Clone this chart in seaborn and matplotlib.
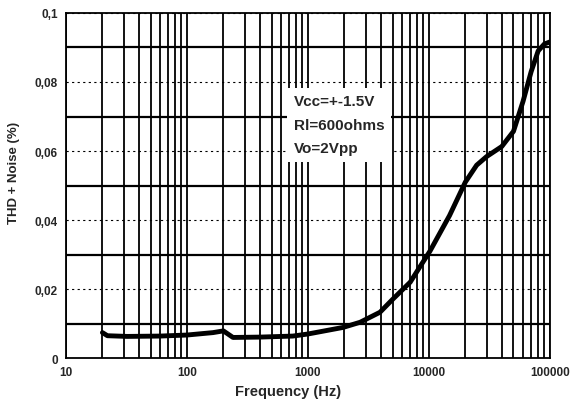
import numpy as np
import pandas as pd
import matplotlib
matplotlib.use("Agg")
import matplotlib.pyplot as plt
import matplotlib.ticker as mticker
import seaborn as sns

# data
freq = [20, 22, 32, 60, 100, 164, 200, 240, 400, 750, 1000, 1950, 2700, 3940,
        5000, 7000, 8440, 10200, 14800, 20000, 24800, 30000, 40000, 50000,
        60000, 70000, 80000, 90000, 100000]
thd = [0.0074, 0.0065, 0.0063, 0.0064, 0.0067, 0.0074, 0.0079, 0.0060, 0.0061,
       0.0064, 0.0070, 0.0089, 0.0104, 0.0133, 0.0170, 0.0220, 0.0265, 0.0310,
       0.0413, 0.0510, 0.0559, 0.0584, 0.0613, 0.0657, 0.0744, 0.0830, 0.0890,
       0.0910, 0.0916]
x_ticks = [10, 100, 1000, 10000, 100000]
y_ticks = [0, 0.02, 0.04, 0.06, 0.08, 0.1]
y_tick_labels = ["0", "0,02", "0,04", "0,06", "0,08", "0,1"]
note_lines = ["Vcc=+-1.5V", "Rl=600ohms", "Vo=2Vpp"]

df = pd.DataFrame({"freq": freq, "thd": thd})

sns.set_style("white")
plt.rcParams["font.family"] = ["Liberation Sans", "DejaVu Sans"]

fig = plt.figure(figsize=(5.74, 4.10), dpi=100)
ax = fig.add_axes([0.115, 0.124, 0.843, 0.842])

sns.lineplot(data=df, x="freq", y="thd", color="black", linewidth=3.5, ax=ax, zorder=5)

ax.set_xscale("log")
ax.set_xlim(10, 100000)
ax.set_ylim(0, 0.1)

ax.xaxis.set_major_locator(mticker.FixedLocator(x_ticks))
ax.xaxis.set_minor_locator(mticker.LogLocator(base=10, subs=np.arange(2, 10)))
ax.xaxis.set_minor_formatter(mticker.NullFormatter())
ax.set_xticklabels([str(v) for v in x_ticks])
ax.set_yticks(y_ticks)
ax.set_yticklabels(y_tick_labels)
ax.yaxis.set_minor_locator(mticker.FixedLocator([0.01, 0.03, 0.05, 0.07, 0.09]))

# vertical grid at every step, horizontal solid at odd hundredths, dotted at even
ax.grid(which="both", axis="x", color="black", linewidth=1.3)
ax.grid(which="minor", axis="y", color="black", linewidth=1.6)
ax.grid(which="major", axis="y", color="black", linewidth=0.8, linestyle=(0, (2, 3)))
for ln in ax.get_xgridlines():
    xd = ln.get_xdata()[0]
    mant = xd / 10 ** np.floor(np.log10(xd))
    if abs(mant - 7) < 0.01:
        ln.set_color("#888888")
ax.set_axisbelow(True)

ax.tick_params(which="both", length=0, pad=6, labelsize=8.5)
for lab in ax.get_xticklabels() + ax.get_yticklabels():
    lab.set_fontweight("bold")

for sp in ax.spines.values():
    sp.set_color("black")
    sp.set_linewidth(1.3)

ax.set_xlabel("Frequency (Hz)", fontsize=10.5, fontweight="bold", labelpad=6)
ax.set_ylabel("THD + Noise (%)", fontsize=9.5, fontweight="bold", labelpad=8)
ax.xaxis.set_label_coords(0.459, -0.075)
ax.yaxis.set_label_coords(-0.095, 0.54)

ax.text(760, 0.0676, "\n".join(note_lines), fontsize=11, fontweight="bold",
        va="center", ha="left", linespacing=1.85, zorder=4,
        bbox=dict(facecolor="white", edgecolor="none", pad=5))

fig.savefig("out.png", dpi=100)
